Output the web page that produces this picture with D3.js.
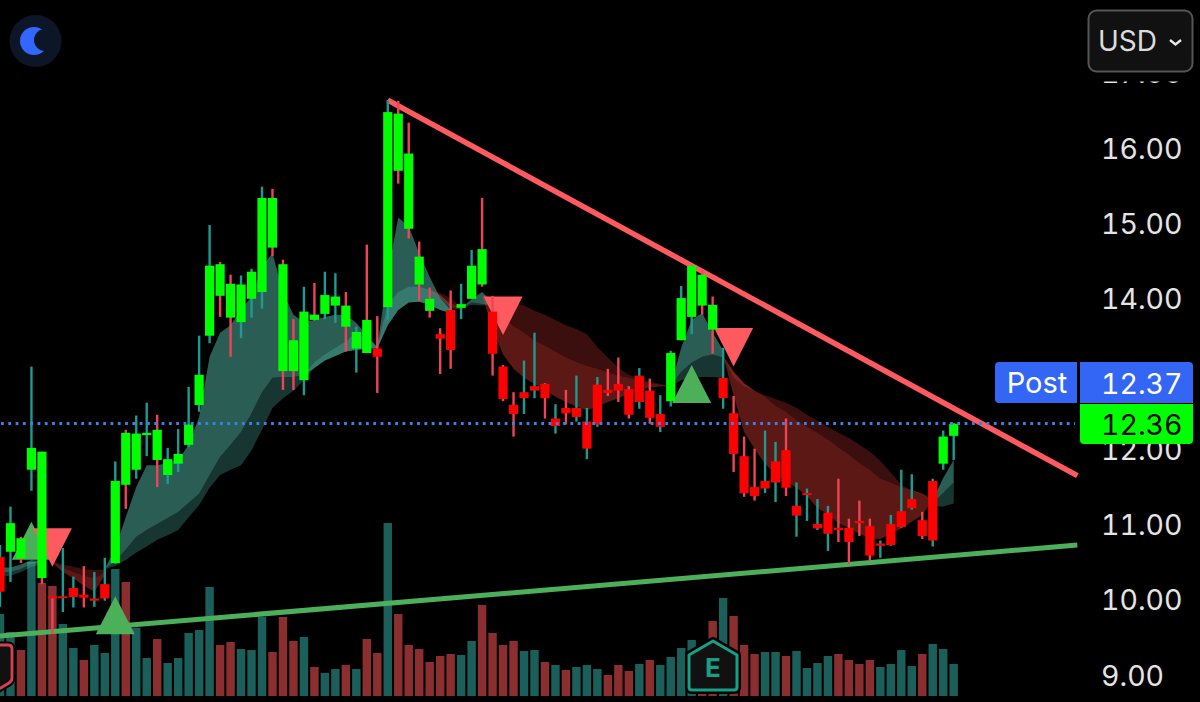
<!DOCTYPE html>
<html>
<head>
<meta charset="utf-8">
<script src="https://cdn.jsdelivr.net/npm/d3@7"></script>
<style>
  html, body { margin: 0; padding: 0; background: #000; overflow: hidden; }
  text { font-family: Inter, "Liberation Sans", sans-serif; font-variant-numeric: tabular-nums; }
</style>
</head>
<body>
<div id="chart"></div>
<script>
const opens = [10.58,10.65,10.56,11.74,10.30,10.06,10.06,10.17,10.08,10.03,
  10.22,10.50,11.54,11.74,12.20,11.87,11.67,11.82,12.07,12.60,
  13.52,14.05,13.76,13.70,14.01,14.10,14.69,13.05,13.05,12.93,
  13.73,13.81,13.92,13.64,13.35,13.29,13.35,13.90,15.71,14.94,
  14.20,13.85,13.54,13.86,13.89,14.01,14.20,13.84,13.11,12.60,
  12.77,12.85,12.88,12.42,12.56,12.56,12.38,12.87,12.80,12.88,
  12.81,12.99,12.79,12.48,12.65,13.46,13.77,13.92,13.60,12.96,
  12.49,11.92,11.51,11.59,11.85,12.00,11.26,11.43,11.02,11.17,
  10.97,10.97,11.06,10.99,10.76,11.02,11.19,11.35,11.07,11.59,
  11.82,12.19];
const highs = [10.74,11.25,10.85,13.11,11.98,10.06,10.70,10.32,10.46,10.38,
  10.57,11.85,12.27,12.46,12.63,12.47,12.03,12.28,12.84,13.52,
  14.99,14.50,14.33,14.32,14.41,15.50,15.47,14.53,13.74,14.17,
  14.22,14.37,14.35,14.10,13.64,14.73,13.78,16.65,16.64,16.35,
  14.77,14.16,13.62,14.12,14.21,14.66,15.35,14.05,13.13,12.77,
  13.19,13.56,12.89,12.61,12.80,12.99,12.56,12.97,13.08,13.23,
  12.85,13.09,12.95,12.73,13.32,14.18,14.45,14.39,14.04,13.36,
  12.72,12.18,12.02,12.26,12.11,12.42,11.57,11.49,11.35,11.26,
  11.62,11.09,11.33,11.09,10.80,11.14,11.74,11.68,11.18,11.62,
  12.26,12.36];
const lows = [9.92,10.25,10.50,11.46,10.22,9.56,9.85,9.91,9.91,9.92,
  10.00,10.49,11.22,11.62,11.92,11.51,11.55,11.71,12.04,12.51,
  13.42,13.77,13.24,13.49,13.76,13.88,14.58,12.80,12.80,12.73,
  13.72,13.74,13.69,13.31,13.03,13.29,12.76,13.73,15.54,14.81,
  13.98,13.76,13.01,13.08,13.74,14.01,14.17,12.99,12.65,12.18,
  12.48,12.69,12.42,12.22,12.34,12.38,11.88,12.31,12.72,12.64,
  12.42,12.55,12.35,12.24,12.58,13.46,13.54,13.80,13.28,12.55,
  11.71,11.38,11.33,11.43,11.31,11.39,10.85,11.06,10.94,10.66,
  10.78,10.49,10.86,10.53,10.57,10.73,10.97,11.21,10.82,10.72,
  11.74,11.87];
const closes = [10.12,11.03,10.83,12.03,11.98,10.04,10.05,10.05,10.04,10.00,
  10.03,11.59,12.23,12.22,12.23,12.27,11.88,11.95,12.34,13.00,
  14.45,14.47,14.21,14.20,14.37,15.35,15.35,14.47,13.46,13.84,
  13.80,14.06,14.04,13.92,13.57,13.73,13.24,16.49,16.47,15.94,
  14.57,14.01,13.48,13.33,13.94,14.45,14.67,13.28,12.68,12.48,
  12.69,12.79,12.69,12.32,12.49,12.44,12.02,12.34,12.76,12.79,
  12.47,12.64,12.43,12.31,13.29,14.02,14.45,14.33,13.93,12.69,
  11.95,11.43,11.39,11.49,11.57,11.50,11.13,11.41,10.96,10.89,
  10.94,10.78,11.03,10.60,10.73,10.74,10.98,11.23,10.86,10.80,
  12.18,12.35];
// 1 = teal wick and volume bar, 0 = red
const dayUp = [1,1,0,1,0,0,1,1,0,1,
  1,1,0,1,1,0,1,1,1,1,
  1,0,0,1,1,1,0,0,0,1,
  0,1,1,0,1,0,0,1,0,0,
  0,0,0,0,1,1,0,0,0,0,
  1,1,0,1,0,1,1,1,0,0,
  0,1,0,1,1,1,1,0,0,1,
  0,0,0,1,1,0,1,1,1,1,
  0,0,0,0,1,1,1,1,0,1,
  1,1];
const volumes = [82,64,46,134,113,110,72,48,36,51,
  43,127,114,68,38,57,33,38,63,66,
  109,51,54,47,46,79,44,79,55,59,
  29,23,27,31,27,57,43,173,82,51,
  47,34,40,42,41,55,91,63,51,55,
  45,46,34,31,26,29,31,27,21,31,
  25,32,36,31,39,48,56,46,75,98,
  80,51,42,44,44,40,45,28,33,40,
  42,36,32,36,29,32,46,30,42,52,
  47,32];

// cloud segments, each starts at a candle index
const seg0Start = 0;
const seg0Top = [10.44,10.44,10.48,10.54,10.52];
const seg0Mid = [10.38,10.38,10.42,10.49,10.50];
const seg0Bot = [10.32,10.33,10.38,10.45,10.48];
const seg1Start = 5;
const seg1Top = [10.52,10.48,10.45,10.42,10.41,10.41];
const seg1Mid = [10.52,10.44,10.38,10.33,10.30,10.38];
const seg1Bot = [10.50,10.38,10.30,10.20,10.12,10.34];
const seg2Start = 10;
const seg2Top = [10.42,10.70,11.11,11.51,11.80,11.80,11.83,11.87,12.07,12.44,
  13.24,13.56,13.66,13.86,14.04,14.43,14.62,14.09,13.80,13.70,
  13.73,13.77,13.80,13.80,13.69,13.53,13.37,14.35,15.09,14.97,
  14.62,14.30,14.02,13.86];
const seg2MidA = [10.42,10.52,10.68,10.85,10.94,11.02,11.10,11.18,11.30,11.42,
  11.67,11.91,12.07,12.24,12.49,12.77,12.96,12.97,12.97,13.00,
  13.09,13.19,13.25,13.31,13.33,13.35,13.35,13.66,13.86,13.96,
  13.97,13.93,13.86,13.82];
const seg2MidB = [10.42,10.52,10.68,10.85,10.94,11.02,11.10,11.18,11.30,11.42,
  11.67,11.91,12.07,12.24,12.49,12.77,12.96,12.97,12.97,13.00,
  13.17,13.27,13.36,13.44,13.57,13.49,13.37,13.93,14.10,14.17,
  14.17,14.13,14.06,13.93];
const seg2Bot = [10.42,10.46,10.54,10.64,10.72,10.81,10.87,10.94,11.11,11.27,
  11.50,11.67,11.74,11.80,12.00,12.27,12.56,12.69,12.79,12.93,
  13.09,13.19,13.25,13.31,13.33,13.35,13.35,13.66,13.86,13.96,
  13.97,13.93,13.86,13.82];
const seg3Start = 41;
const seg3Top = [14.13,14.09,14.02,13.89];
const seg3Mid = [14.12,14.05,13.96,13.88];
const seg3Bot = [14.12,14.02,13.89,13.86];
const seg4Start = 44;
const seg4Top = [13.89,14.00,14.10,13.97];
const seg4Mid = [13.88,13.96,13.94,13.93];
const seg4Bot = [13.88,13.93,13.92,13.93];
const seg5Start = 46;
const seg5Top = [14.05,14.02,13.98,13.96,13.92,13.85,13.80,13.73,13.66,13.61,
  13.54,13.37,13.23,13.09,13.00,12.95,12.91,12.88,12.85];
const seg5Mid = [14.05,13.93,13.77,13.65,13.56,13.46,13.39,13.31,13.23,13.17,
  13.12,13.08,13.03,12.99,12.96,12.93,12.89,12.87,12.85];
const seg5Bot = [14.05,13.62,13.27,13.08,12.96,12.88,12.80,12.71,12.64,12.58,
  12.53,12.58,12.64,12.69,12.75,12.80,12.83,12.85,12.85];
const seg6Start = 64;
const seg6Top = [12.85,13.36,13.73,13.82,13.56,13.33];
const seg6Mid = [12.85,13.04,13.16,13.24,13.27,13.23];
const seg6Bot = [12.85,12.93,12.96,12.97,12.97,12.96];
const seg7Start = 69;
const seg7Top = [13.25,12.96,12.85,12.79,12.73,12.68,12.63,12.56,12.47,12.39,
  12.31,12.23,12.16,12.07,11.98,11.86,11.70,11.54,11.46,11.41,11.34];
const seg7Mid = [13.25,13.04,12.89,12.79,12.71,12.59,12.51,12.40,12.31,12.23,
  12.14,12.04,11.94,11.83,11.74,11.62,11.57,11.51,11.47,11.42,11.34];
const seg7Bot = [13.25,12.73,12.24,12.02,11.82,11.68,11.59,11.50,11.39,11.23,
  11.15,11.03,10.97,10.89,10.83,10.82,10.89,10.96,11.05,11.14,11.34];
const seg8Start = 89;
const seg8Top = [11.34,11.63,11.87];
const seg8Mid = [11.30,11.43,11.57];
const seg8Bot = [11.25,11.25,11.29];

// buy / sell arrows: candle index and tip price
const upSignalIdx = [3, 11, 66];
const upSignalPrice = [11.05, 10.06, 13.13];
const downSignalIdx = [5, 48, 70];
const downSignalPrice = [10.45, 13.53, 13.11];

// trend lines
const trendIdx = [37, 102.8];
const resistance = [16.65, 11.66];
const supportIdx = [0, 102.8];
const support = [9.53, 10.74];

// 13.00 sits completely under the Post badge, so it is left out
const priceTicks = [9, 10, 11, 12, 14, 15, 16, 17];
const lastPrice = 12.36;
const postPrice = 12.37;

const width = 1200, height = 702;

const svg = d3.select("#chart").append("svg")
    .attr("width", width)
    .attr("height", height)
    .style("display", "block")
    .style("background", "#000");

const x = d3.scaleLinear().domain([0, 91]).range([0, 953.7]);
const y = d3.scaleLinear().domain([16, 9]).range([149, 676]);
const yVol = d3.scaleLinear().domain([0, 173]).range([696, 523]);

const candles = opens.map((o, i) => ({
    i: i, open: o, high: highs[i], low: lows[i], close: closes[i],
    up: dayUp[i], vol: volumes[i]
}));

// volume
svg.append("g").selectAll("rect")
    .data(candles)
    .join("rect")
    .attr("x", d => x(d.i) - 4.2)
    .attr("width", 8.4)
    .attr("y", d => yVol(d.vol))
    .attr("height", d => yVol(0) - yVol(d.vol))
    .attr("fill", d => d.up ? "#1b5f5a" : "#8a2e2f");

// trend lines
const trendLine = d3.line().x(d => x(d[0])).y(d => y(d[1]));
svg.append("path")
    .attr("d", trendLine(supportIdx.map((d, i) => [d, support[i]])))
    .attr("stroke", "#4caf5a").attr("stroke-width", 5).attr("fill", "none");
svg.append("path")
    .attr("d", trendLine(trendIdx.map((d, i) => [d, resistance[i]])))
    .attr("stroke", "#ff5a60").attr("stroke-width", 5.4).attr("fill", "none");

// cloud
const band = (start, upper, lower) => d3.area()
    .x((d, k) => x(start + k))
    .y0((d, k) => y(lower[k]))
    .y1((d, k) => y(upper[k]))(upper);

const teal = "rgb(90,200,180)", wine = "rgb(230,60,50)";
const clouds = [
    [seg0Start, seg0Top, seg0Mid, seg0Mid, seg0Bot, teal],
    [seg1Start, seg1Top, seg1Mid, seg1Mid, seg1Bot, wine],
    [seg2Start, seg2Top, seg2MidA, seg2MidB, seg2Bot, teal],
    [seg3Start, seg3Top, seg3Mid, seg3Mid, seg3Bot, wine],
    [seg4Start, seg4Top, seg4Mid, seg4Mid, seg4Bot, teal],
    [seg5Start, seg5Top, seg5Mid, seg5Mid, seg5Bot, wine],
    [seg6Start, seg6Top, seg6Mid, seg6Mid, seg6Bot, teal],
    [seg7Start, seg7Top, seg7Mid, seg7Mid, seg7Bot, wine],
    [seg8Start, seg8Top, seg8Mid, seg8Mid, seg8Bot, teal]
];
const cloud = svg.append("g");
clouds.forEach(c => {
    const isTeal = c[5] === teal;
    cloud.append("path").attr("d", band(c[0], c[1], c[2]))
        .attr("fill", c[5]).attr("fill-opacity", isTeal ? 0.47 : 0.25);
    cloud.append("path").attr("d", band(c[0], c[3], c[4]))
        .attr("fill", c[5]).attr("fill-opacity", isTeal ? 0.27 : 0.40);
});

// arrows
const upTri = (i, p) => `M${x(i)},${y(p)}l19.5,38h-39z`;
const downTri = (i, p) => `M${x(i)},${y(p)}l19.5,-38.5h-39z`;
svg.append("g").selectAll("path")
    .data(upSignalIdx)
    .join("path")
    .attr("d", (d, k) => upTri(d, upSignalPrice[k]))
    .attr("fill", "#4caf5a");
svg.append("g").selectAll("path")
    .data(downSignalIdx)
    .join("path")
    .attr("d", (d, k) => downTri(d, downSignalPrice[k]))
    .attr("fill", "#ff5a60");

// candles
const candle = svg.append("g");
candle.selectAll("line")
    .data(candles)
    .join("line")
    .attr("x1", d => x(d.i)).attr("x2", d => x(d.i))
    .attr("y1", d => y(d.high)).attr("y2", d => y(d.low))
    .attr("stroke", d => d.up ? "#1f9a90" : "#ee4455")
    .attr("stroke-width", 2.4);
candle.selectAll("rect")
    .data(candles)
    .join("rect")
    .attr("x", d => x(d.i) - 4.6)
    .attr("width", 9.2)
    .attr("y", d => y(Math.max(d.open, d.close)))
    .attr("height", d => Math.max(y(Math.min(d.open, d.close)) - y(Math.max(d.open, d.close)), 2))
    .attr("fill", d => d.close > d.open ? "#00ff00" : "#ff0000");

// last price dotted line
svg.append("line")
    .attr("x1", 1).attr("x2", 1075)
    .attr("y1", y(lastPrice) + 0.4).attr("y2", y(lastPrice) + 0.4)
    .attr("stroke", "#3a80e8").attr("stroke-width", 3)
    .attr("stroke-dasharray", "2.8 4.5");

// earnings marker
const housePath = "M713,641 L737,655 V687 Q737,690 734,690 H692 Q689,690 689,687 V655 Z";
svg.append("path")
    .attr("d", housePath)
    .attr("fill", "#111").attr("stroke", "#000").attr("stroke-width", 8).attr("stroke-linejoin", "round");
svg.append("path")
    .attr("d", housePath)
    .attr("fill", "#111").attr("stroke", "#17a085").attr("stroke-width", 3).attr("stroke-linejoin", "round");
svg.append("text").text("E")
    .attr("x", 713).attr("y", 677)
    .attr("text-anchor", "middle")
    .attr("font-size", 26).attr("font-weight", 700)
    .attr("fill", "#1a9d85");

// cut off dividend marker at left edge
const stubPath = "M-6,645 H8 Q12,645 12,649 V678 Q12,681 9,683 L-6,692 Z";
svg.append("path")
    .attr("d", stubPath)
    .attr("fill", "#111").attr("stroke", "#000").attr("stroke-width", 7);
svg.append("path")
    .attr("d", stubPath)
    .attr("fill", "#111").attr("stroke", "#d8404f").attr("stroke-width", 2.8);

// moon button
svg.append("circle").attr("cx", 35.5).attr("cy", 41).attr("r", 26).attr("fill", "#0d1626");
svg.append("circle").attr("cx", 34).attr("cy", 41).attr("r", 14).attr("fill", "#3366ff");
svg.append("circle").attr("cx", 45).attr("cy", 40).attr("r", 11).attr("fill", "#0d1626");

// price axis, labels start at the same left edge
const axis = d3.axisRight(y)
    .tickValues(priceTicks)
    .tickFormat(d => d.toFixed(2))
    .tickSize(0)
    .tickPadding(0);
const gAxis = svg.append("g")
    .attr("transform", "translate(1101,0)")
    .call(axis);
gAxis.select(".domain").remove();
gAxis.selectAll("text")
    .attr("text-anchor", "start")
    .attr("font-family", "Inter")
    .attr("font-size", 28.5)
    .attr("fill", "#e4e4e4");

// badges
svg.append("path").attr("d", "M999,362 H1077 V403 H999 Q995,403 995,399 V366 Q995,362 999,362 Z").attr("fill", "#3366f5");
svg.append("path").attr("d", "M1080,362 H1189 Q1193,362 1193,366 V403 H1080 Z").attr("fill", "#3366f5");
svg.append("path").attr("d", "M1080,404 H1193 V440 Q1193,444 1189,444 H1084 Q1080,444 1080,440 Z").attr("fill", "#00ff00");
svg.append("text").text("Post")
    .attr("x", 1037).attr("y", 393).attr("text-anchor", "middle")
    .attr("font-size", 29).attr("fill", "#fff");
svg.append("text").text(postPrice.toFixed(2))
    .attr("x", 1101).attr("y", 393.5)
    .attr("font-size", 28.5).attr("fill", "#fff");
svg.append("text").text(lastPrice.toFixed(2))
    .attr("x", 1101).attr("y", 434.5)
    .attr("font-size", 28.5).attr("fill", "#000");

// currency button, black halo hides most of the 17.00 label
svg.append("rect").attr("x", 1084).attr("y", 6).attr("width", 116).attr("height", 75.5).attr("fill", "#000");
svg.append("rect")
    .attr("x", 1088.5).attr("y", 10.5).attr("width", 104).attr("height", 61).attr("rx", 8)
    .attr("fill", "#111").attr("stroke", "#555").attr("stroke-width", 2);
svg.append("text").text("USD")
    .attr("x", 1098).attr("y", 51)
    .attr("font-size", 28).attr("fill", "#dcdcdc");
svg.append("path")
    .attr("d", "M1170,40 L1175.5,44.5 L1181,40")
    .attr("fill", "none").attr("stroke", "#e8e8e8").attr("stroke-width", 2.4);
</script>
</body>
</html>
